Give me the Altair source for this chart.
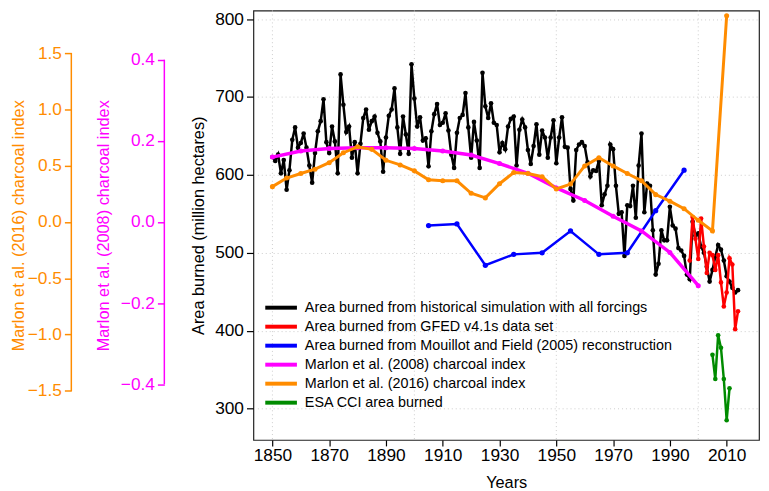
import altair as alt
import pandas as pd

FONT = "Liberation Sans"

# ---------------- data ----------------
black_years = list(range(1850, 2015))
black_vals = [
    623, 618, 626, 602, 619, 581, 606, 645, 661, 635,
    641, 653, 635, 612, 590, 628, 656, 669, 697, 642,
    628, 662, 643, 602, 729, 690, 655, 662, 622, 642,
    602, 640, 673, 684, 658, 669, 675, 654, 643, 604,
    648, 676, 684, 711, 661, 627, 675, 652, 627, 742,
    698, 662, 674, 644, 647, 611, 656, 678, 691, 664,
    667, 679, 657, 626, 609, 654, 673, 677, 705, 661,
    622, 668, 644, 609, 731, 688, 673, 692, 667, 664,
    629, 641, 633, 662, 672, 675, 612, 658, 671, 661,
    632, 614, 637, 665, 626, 657, 648, 622, 648, 670,
    615, 648, 674, 636, 635, 582, 567, 632, 639, 642,
    637, 616, 598, 606, 605, 618, 561, 575, 586, 639,
    633, 586, 550, 552, 496, 561, 560, 586, 545, 612,
    653, 552, 589, 586, 529, 472, 486, 529, 516, 516,
    559, 535, 531, 506, 503, 496, 472, 466, 540, 522,
    525, 508, 500, 482, 463, 478, 495, 510, 504, 490,
    470, 463, 455, 449, 452,
]
gfed_years = list(range(1997, 2015))
gfed_vals = [490, 546, 518, 492, 544, 508, 474, 500, 497, 478,
             497, 462, 431, 449, 493, 485, 402, 425]
mouillot_years = [1905, 1915, 1925, 1935, 1945, 1955, 1965, 1975, 1985, 1995]
mouillot_vals = [535, 537, 484, 498, 500, 528, 498, 500, 554, 606]
marlon08_years = list(range(1850, 2001, 10))
marlon08_vals = [0.160, 0.175, 0.181, 0.183, 0.183, 0.181, 0.175, 0.165,
                 0.144, 0.120, 0.084, 0.053, 0.014, -0.022, -0.075, -0.157]
marlon16_years = list(range(1850, 2011, 5))
marlon16_vals = [0.314, 0.390, 0.431, 0.469, 0.527, 0.615, 0.668, 0.645,
                 0.548, 0.507, 0.454, 0.375, 0.366, 0.366, 0.255, 0.214,
                 0.340, 0.439, 0.431, 0.402, 0.293, 0.337, 0.498, 0.571,
                 0.498, 0.431, 0.366, 0.243, 0.185, 0.118, 0.015, -0.079, 1.831]
esa_years = list(range(2005, 2012))
esa_vals = [369, 338, 394, 378, 338, 285, 326]

grid_years = [1850, 1900, 1950, 2000]
x_ticks = list(range(1850, 2011, 20))
main_ticks = [300, 400, 500, 600, 700, 800]
m08_ticks = [-0.4, -0.2, 0.0, 0.2, 0.4]
m16_ticks = [-1.5, -1.0, -0.5, 0.0, 0.5, 1.0, 1.5]

legend_labels = [
    "Area burned from historical simulation with all forcings",
    "Area burned from GFED v4.1s data set",
    "Area burned from Mouillot and Field (2005) reconstruction",
    "Marlon et al. (2008) charcoal index",
    "Marlon et al. (2016) charcoal index",
    "ESA CCI area burned",
]
BLACK, RED, BLUE, MAGENTA, ORANGE, GREEN = (
    "#000000", "#ff0000", "#0000ff", "#ff00ff", "#ff8c00", "#008b00")
legend_colors = [BLACK, RED, BLUE, MAGENTA, ORANGE, GREEN]

# ---------------- scales / axes ----------------
W, H = 511, 434
LAB, TIT = 17.5, 16.5
xs = alt.Scale(domain=[1843.3, 2021.4], nice=False, zero=False)
main_dom = [259.7, 811.0]
m08_dom = [-0.5373, 0.5212]
m16_dom = [-1.936, 1.878]

x_axis = alt.Axis(
    values=x_ticks, format="d", title="Years", grid=False, domain=False,
    tickSize=6, tickWidth=1.2, tickColor="#000", labelColor="#000",
    labelFontSize=LAB, titleFontSize=TIT, labelPadding=1, titlePadding=11,
    titleColor="#000", labelFlush=False,
)


def ys(dom):
    return alt.Scale(domain=dom, nice=False, zero=False)


def X(field="year:Q"):
    return alt.X(field, scale=xs, axis=x_axis)


def series(years, vals, color, dom, width=2.5, size=22, axis=None):
    df = pd.DataFrame({"year": years, "v": vals})
    return alt.Chart(df).mark_line(
        color=color, strokeWidth=width,
        point=alt.OverlayMarkDef(filled=True, color=color, size=size, opacity=1),
    ).encode(
        x=X(),
        y=alt.Y("v:Q", scale=ys(dom), axis=axis),
    )


# vertical dotted grid lines
grid = alt.Chart(pd.DataFrame({"year": grid_years})).mark_rule(
    color="#cccccc", strokeDash=[1, 3], strokeWidth=1
).encode(x=X())

main_axis = alt.Axis(
    orient="left", values=main_ticks, format="d", title="Area burned (million hectares)",
    grid=True, gridDash=[1, 3], gridColor="#cccccc", domain=False,
    tickSize=7, tickWidth=1.2, tickColor="#000", labelColor="#000",
    labelFontSize=LAB, titleFontSize=TIT, labelPadding=3, titlePadding=8,
    titleColor="#000",
)
black = series(black_years, black_vals, BLACK, main_dom, axis=main_axis)
red = series(gfed_years, gfed_vals, RED, main_dom)
blue = series(mouillot_years, mouillot_vals, BLUE, main_dom, size=28)

m08_axis = alt.Axis(
    orient="left", offset=90, values=m08_ticks, format=".1f",
    title="Marlon et al. (2008) charcoal index", grid=False, domain=False,
    tickSize=7, tickWidth=1.5, tickColor=MAGENTA, labelColor=MAGENTA,
    titleColor=MAGENTA, labelFontSize=LAB, titleFontSize=TIT,
    labelPadding=3, titlePadding=9,
)
magenta = series(marlon08_years, marlon08_vals, MAGENTA, m08_dom, width=3.5,
                 size=26, axis=m08_axis)
m08_line = alt.Chart(pd.DataFrame({"lo": [m08_ticks[0]], "hi": [m08_ticks[-1]]})).mark_rule(
    color=MAGENTA, strokeWidth=1.5
).encode(x=alt.value(-90), y=alt.Y("lo:Q", scale=ys(m08_dom), axis=None), y2="hi:Q")

m16_axis = alt.Axis(
    orient="left", offset=184, values=m16_ticks, format=".1f",
    title="Marlon et al. (2016) charcoal index", grid=False, domain=False,
    tickSize=7, tickWidth=1.5, tickColor=ORANGE, labelColor=ORANGE,
    titleColor=ORANGE, labelFontSize=LAB, titleFontSize=TIT,
    labelPadding=3, titlePadding=1,
)
orange = series(marlon16_years, marlon16_vals, ORANGE, m16_dom, width=3,
                size=26, axis=m16_axis)
m16_line = alt.Chart(pd.DataFrame({"lo": [m16_ticks[0]], "hi": [m16_ticks[-1]]})).mark_rule(
    color=ORANGE, strokeWidth=1.5
).encode(x=alt.value(-184), y=alt.Y("lo:Q", scale=ys(m16_dom), axis=None), y2="hi:Q")

green = series(esa_years, esa_vals, GREEN, main_dom)

# legend (inside plot, lower left)
leg_df = pd.DataFrame({"label": legend_labels})
leg_y = alt.Y("label:N", scale=alt.Scale(type="point", domain=legend_labels,
                                          range=[300.3, 396.3], padding=0), axis=None)
leg_color = alt.Color("label:N", scale=alt.Scale(domain=legend_labels, range=legend_colors),
                      legend=None)
leg_lines = alt.Chart(leg_df).mark_rule(strokeWidth=4).encode(
    x=alt.value(12), x2=alt.value(44), y=leg_y, color=leg_color)
leg_text = alt.Chart(leg_df).mark_text(
    align="left", baseline="middle", font=FONT, fontSize=14.5, color="#000"
).encode(x=alt.value(52), y=leg_y, text="label:N")

chart = alt.layer(
    grid, black, red, blue, m08_line, magenta, m16_line, orange, green,
    leg_lines, leg_text,
).resolve_scale(y="independent").properties(
    width=W, height=H,
    autosize=alt.AutoSizeParams(type="none"),
    padding={"left": 248, "top": 0, "right": 2, "bottom": 49},
).configure_view(
    stroke="#222", strokeWidth=1.2
).configure_axis(
    labelFont=FONT, titleFont=FONT, titleFontWeight="normal"
)

chart.save("out.html", embed_options={"renderer": "svg", "actions": False})
